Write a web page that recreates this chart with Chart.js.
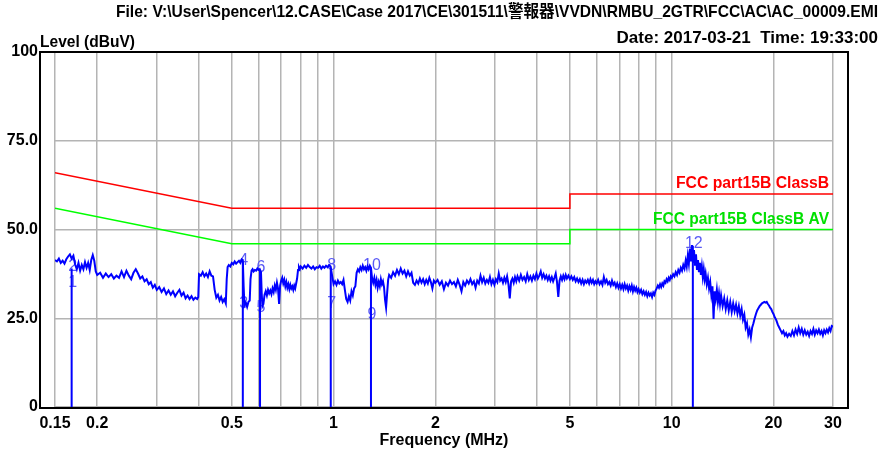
<!DOCTYPE html>
<html>
<head>
<meta charset="utf-8">
<script src="https://cdn.jsdelivr.net/npm/chart.js@4"></script>
<style>
  html, body { margin: 0; padding: 0; background: #fff; }
  #wrap { width: 882px; height: 452px; position: relative; }
</style>
</head>
<body>
<div id="wrap"><canvas id="emi"></canvas></div>
<script>
// axis ticks
const gridFreqs = [0.15, 0.2, 0.3, 0.4, 0.5, 0.6, 0.7, 0.8, 0.9, 1, 2, 3, 4, 5, 6, 7, 8, 9, 10, 20, 30];
const labelFreqs = [0.15, 0.2, 0.5, 1, 2, 5, 10, 20, 30];
const levelTicks = [0, 25, 50, 75, 100];

// limit lines
const limitQpFreq = [0.15, 0.5, 5, 5, 30];
const limitQpLevel = [66, 56, 56, 60, 60];
const limitAvFreq = [0.15, 0.5, 5, 5, 30];
const limitAvLevel = [56, 46, 46, 50, 50];

// markers 1..12 (label of 11 is hidden under the trace in the original)
const markerNo = ["1", "2", "3", "4", "5", "6", "7", "8", "9", "10", "", "12"];
const markerFreq = [0.168, 0.168, 0.539, 0.539, 0.606, 0.606, 0.981, 0.981, 1.29, 1.29, 11.55, 11.55];
const markerLevel = [34.6, 39.0, 28.7, 40.8, 27.3, 38.6, 28.7, 39.2, 25.6, 39.2, 38.0, 45.4];

// measured trace (MHz / dBuV)
const traceFreq = [
  0.150,0.152,0.154,0.156,0.158,0.160,0.162,0.164,0.166,0.168,0.170,0.172,0.174,0.176,0.178,0.180,0.182,0.184,0.186,0.188,0.190,0.192,0.194,0.196,0.198,
  0.200,0.204,0.208,0.212,0.216,0.220,0.224,0.228,0.232,0.236,0.240,0.244,0.248,0.252,0.256,0.260,0.264,0.268,0.272,0.276,0.280,0.284,0.288,0.292,0.296,
  0.300,0.305,0.310,0.315,0.320,0.325,0.330,0.335,0.340,0.345,0.350,0.355,0.360,0.365,0.370,0.375,0.380,0.385,0.390,0.395,0.398,
  0.400,0.405,0.410,0.415,0.420,0.425,0.430,0.435,0.440,0.445,0.450,0.455,0.460,0.465,0.470,0.475,0.480,0.483,0.486,0.490,0.495,
  0.500,0.505,0.510,0.515,0.520,0.525,0.530,0.535,0.539,0.542,0.545,0.550,0.555,0.560,0.565,0.568,0.572,0.576,0.580,0.585,0.590,0.595,
  0.600,0.605,0.610,0.613,0.616,0.620,0.625,0.630,0.635,0.640,0.645,0.650,0.655,0.660,0.665,0.670,0.675,0.680,0.685,0.690,0.695,
  0.700,0.705,0.710,0.715,0.720,0.725,0.730,0.735,0.740,0.745,0.750,0.755,0.760,0.765,0.770,0.775,0.780,0.785,0.790,0.795,
  0.800,0.810,0.820,0.830,0.840,0.850,0.860,0.870,0.880,0.890,0.900,0.910,0.920,0.930,0.940,0.950,0.960,0.970,0.980,0.990,
  1.000,1.010,1.020,1.030,1.040,1.050,1.060,1.070,1.080,1.090,1.100,1.110,1.120,1.130,1.140,1.150,1.160,1.170,1.180,1.190,
  1.200,1.210,1.220,1.230,1.240,1.250,1.260,1.270,1.280,1.290,1.300,1.310,1.320,1.330,1.340,1.350,1.360,1.370,1.380,1.390,
  1.400,1.410,1.420,1.430,1.440,1.450,1.460,1.480,1.500,1.520,1.540,1.560,1.580,1.600,1.620,1.640,1.660,1.680,1.700,1.720,1.740,
  1.760,1.780,1.800,1.820,1.840,1.860,1.880,1.900,1.920,1.940,1.960,1.980,
  2.000,2.030,2.060,2.090,2.120,2.150,2.180,2.210,2.240,2.270,2.300,2.330,2.360,2.390,2.420,2.450,2.480,2.510,2.540,2.570,2.600,2.630,2.660,2.690,
  2.720,2.750,2.780,2.810,2.840,2.870,2.900,2.930,2.960,2.990,3.020,3.050,3.080,3.110,3.140,3.170,3.200,3.230,3.260,3.290,3.320,3.350,3.380,3.410,3.440,3.470,
  3.500,3.540,3.580,3.620,3.660,3.700,3.740,3.780,3.820,3.860,3.900,3.940,3.980,4.020,4.060,4.100,4.140,4.180,4.220,4.260,4.300,4.340,4.380,4.420,4.460,
  4.500,4.540,4.580,4.620,4.660,4.700,4.740,4.780,4.820,4.860,4.900,4.950,
  5.000,5.050,5.100,5.150,5.200,5.250,5.300,5.350,5.400,5.450,5.500,5.550,5.600,5.650,5.700,5.750,5.800,5.850,5.900,5.950,
  6.000,6.060,6.120,6.180,6.240,6.300,6.360,6.420,6.480,6.540,6.600,6.660,6.720,6.780,6.840,6.900,6.960,
  7.020,7.080,7.140,7.200,7.260,7.320,7.380,7.440,7.500,7.560,7.620,7.680,7.740,7.800,7.860,7.920,7.980,
  8.050,8.120,8.190,8.260,8.330,8.400,8.470,8.540,8.610,8.680,8.750,8.820,8.890,8.960,
  9.030,9.100,9.170,9.240,9.310,9.380,9.450,9.520,9.590,9.660,9.730,9.800,9.870,9.940,
  10.01,10.10,10.19,10.28,10.37,10.46,10.55,10.64,10.73,10.82,10.91,11.00,11.08,11.16,11.24,11.32,11.40,11.48,11.56,11.64,11.72,11.80,11.88,11.96,
  12.04,12.12,12.20,12.28,12.36,12.44,12.52,12.60,12.70,12.80,12.90,13.00,13.10,13.20,13.30,13.40,13.50,13.60,13.70,13.80,13.90,
  14.00,14.15,14.30,14.45,14.60,14.75,14.90,15.05,15.20,15.35,15.50,15.65,15.80,15.95,16.10,16.25,16.40,16.55,16.70,16.85,
  17.00,17.15,17.30,17.45,17.60,17.75,17.90,18.05,18.20,18.35,18.50,18.65,18.80,18.95,19.10,19.25,19.40,19.55,19.70,19.85,
  20.00,20.20,20.40,20.60,20.80,21.00,21.20,21.40,21.60,21.80,22.00,22.25,22.50,22.75,23.00,23.25,23.50,23.75,24.00,24.25,24.50,24.75,
  25.00,25.25,25.50,25.75,26.00,26.25,26.50,26.75,27.00,27.25,27.50,27.75,28.00,28.25,28.50,28.75,29.00,29.25,29.50,29.75,30.00
];
const traceLevel = [
  41.4,41.0,41.8,40.6,41.2,40.4,41.6,42.4,43.0,41.8,42.6,40.2,38.8,40.6,38.4,40.0,38.8,40.8,39.2,40.6,38.6,41.4,42.8,41.2,38.2,
  37.2,37.8,36.4,37.6,36.6,37.4,36.2,37.0,36.4,38.2,36.6,38.4,37.0,36.0,37.8,38.8,37.6,36.2,36.8,35.4,36.0,34.6,35.2,33.6,34.4,
  33.0,33.8,32.4,33.4,31.8,32.8,31.6,32.6,31.2,32.2,33.0,31.4,32.2,30.6,31.4,30.4,31.2,30.2,30.8,30.4,31.0,
  37.4,37.0,38.0,36.8,37.6,36.6,38.2,37.0,36.8,33.0,30.8,31.6,30.0,31.0,29.6,30.4,29.2,36.0,39.4,40.0,39.6,
  40.6,40.2,41.0,40.4,40.8,41.2,40.6,41.6,41.4,34.0,28.6,29.4,28.2,29.6,30.0,36.0,38.4,38.8,38.2,38.6,38.4,39.0,
  38.6,38.8,38.0,32.0,28.4,29.0,31.6,32.6,31.4,33.0,32.0,32.8,31.8,33.4,32.4,34.2,33.0,35.0,33.4,29.0,34.2,
  35.6,36.4,34.8,35.8,34.0,35.2,33.6,34.6,33.2,34.4,33.4,34.0,33.0,34.2,33.4,34.8,36.2,38.6,39.4,38.8,
  39.6,39.0,39.8,39.2,40.0,39.4,39.0,39.6,38.8,39.4,39.2,39.8,39.0,39.6,39.2,39.8,39.4,40.0,39.6,37.0,
  34.6,35.4,34.4,35.6,34.8,35.2,34.6,35.8,33.0,30.4,29.6,31.2,30.0,32.6,31.4,33.4,34.0,37.8,38.8,38.2,
  39.4,38.6,39.8,38.8,39.4,38.4,39.6,38.8,39.8,39.2,36.2,35.0,36.4,34.4,35.8,33.6,35.2,34.0,36.0,34.6,
  35.4,33.8,30.2,28.0,32.0,35.8,37.2,36.4,38.0,37.0,38.6,37.4,39.0,37.6,38.4,36.8,38.2,37.0,37.8,35.0,34.4,
  35.6,34.8,36.2,35.0,36.0,34.6,35.8,34.8,36.4,35.2,33.4,35.6,
  35.0,35.8,34.4,35.4,33.2,35.0,34.2,35.6,34.6,35.2,34.0,35.8,34.4,32.6,35.2,34.2,35.6,34.8,36.0,34.6,35.4,33.6,35.6,34.8,
  37.0,35.2,36.4,34.8,35.8,35.0,36.6,34.6,35.8,34.4,36.0,35.2,37.6,35.6,36.2,35.0,36.4,35.2,36.8,34.6,30.6,35.4,36.2,35.0,36.6,35.4,
  36.8,35.6,37.2,35.8,36.6,35.4,37.4,35.8,36.8,35.6,37.0,36.0,37.6,36.2,37.0,38.2,36.4,37.4,36.2,37.0,35.8,36.8,35.6,36.6,35.4,
  36.4,37.6,35.2,31.0,35.6,36.8,35.8,37.0,36.0,37.2,36.2,37.0,
  36.0,36.8,35.8,36.6,35.4,36.2,35.2,36.0,34.8,35.8,34.6,35.6,35.0,35.8,34.8,36.0,35.0,35.8,34.6,35.4,
  34.8,35.8,34.6,35.4,34.4,36.6,35.0,35.8,34.6,35.2,34.2,35.6,34.4,35.0,33.8,34.8,33.6,
  34.6,33.4,34.4,33.2,34.6,33.4,34.2,32.8,34.0,33.0,34.2,32.6,33.8,32.8,33.6,32.4,33.2,
  32.2,33.0,31.8,32.6,31.6,32.4,31.2,32.2,31.4,32.0,31.0,32.2,31.6,32.8,
  33.4,34.2,33.6,34.6,33.8,34.8,34.2,35.4,35.0,36.0,35.4,36.4,35.8,36.8,
  36.4,37.4,36.8,38.0,37.2,38.6,37.8,39.2,38.4,40.0,39.0,41.2,39.6,42.6,40.4,44.6,41.0,45.6,40.6,44.2,39.8,43.0,38.6,41.4,
  38.0,40.6,37.2,39.6,36.6,38.8,36.0,37.6,34.6,36.4,33.4,35.2,31.6,34.0,24.8,32.6,30.4,33.0,29.6,32.0,29.0,
  31.4,28.4,30.6,27.6,30.0,27.2,29.6,26.8,29.2,27.0,28.8,26.4,28.4,25.8,27.6,24.6,26.0,22.4,23.6,20.4,
  21.8,19.6,22.4,23.6,25.0,26.2,27.2,27.8,28.4,28.8,29.2,29.4,29.6,29.4,29.6,29.0,28.6,28.0,27.6,26.8,
  26.2,25.2,24.4,23.2,22.4,21.6,20.8,21.4,20.2,20.8,19.8,20.6,20.0,21.4,20.2,21.8,20.6,22.4,20.8,22.0,20.4,21.6,
  20.4,21.2,20.0,21.4,20.6,22.0,20.4,21.6,20.8,21.8,20.6,21.4,20.2,21.6,20.8,21.8,21.0,22.2,21.4,22.8,22.6
];

const narrow = "'Liberation Sans Narrow', 'Liberation Sans', Arial, 'Noto Sans CJK TC', sans-serif";
const sans = "'Liberation Sans', Arial, sans-serif";

const traceData = traceFreq.map((f, i) => ({ x: f, y: traceLevel[i] }));
const qpData = limitQpFreq.map((f, i) => ({ x: f, y: limitQpLevel[i] }));
const avData = limitAvFreq.map((f, i) => ({ x: f, y: limitAvLevel[i] }));
const markerLines = [];
markerFreq.forEach((f, i) => {
    markerLines.push({ x: f, y: 0 }, { x: f, y: markerLevel[i] }, { x: f, y: null });
});

const decor = {
    id: "decor",
    beforeDatasetsDraw(chart) {
        const { ctx, scales: { x, y } } = chart;
        ctx.save();
        ctx.font = "16px " + sans;
        ctx.fillStyle = "#5a5af5";
        ctx.textAlign = "center";
        ctx.textBaseline = "middle";
        markerNo.forEach((n, i) => {
            if (!n) return;
            ctx.fillText(n, x.getPixelForValue(markerFreq[i]) + 1, y.getPixelForValue(markerLevel[i]) - 2);
        });
        ctx.restore();
    },
    afterDatasetsDraw(chart) {
        const { ctx, chartArea, scales: { y } } = chart;
        ctx.save();
        ctx.font = "bold 16px " + sans;
        ctx.textAlign = "right";
        ctx.textBaseline = "middle";
        ctx.fillStyle = "#ff0000";
        ctx.fillText("FCC part15B ClassB", chartArea.right - 4, y.getPixelForValue(limitQpLevel[4]) - 10, 153);
        ctx.fillStyle = "#00e000";
        ctx.fillText("FCC part15B ClassB AV", chartArea.right - 4, y.getPixelForValue(limitAvLevel[4]) - 10, 176);
        ctx.restore();
    },
    afterDraw(chart) {
        const { ctx, chartArea } = chart;
        ctx.save();
        // frame
        ctx.strokeStyle = "#000";
        ctx.lineWidth = 2;
        ctx.strokeRect(chartArea.left - 15, chartArea.top, chartArea.width + 30, chartArea.bottom - chartArea.top + 1);
        // header texts
        ctx.fillStyle = "#000";
        ctx.textBaseline = "middle";
        ctx.font = "bold 17px " + narrow;
        ctx.textAlign = "right";
        ctx.fillText("File: V:\\User\\Spencer\\12.CASE\\Case 2017\\CE\\301511\\警報器\\VVDN\\RMBU_2GTR\\FCC\\AC\\AC_00009.EMI", 878, 12, 762);
        ctx.fillText("Date: 2017-03-21  Time: 19:33:00", 878, 38, 275);
        ctx.textAlign = "left";
        ctx.fillText("Level (dBuV)", 40, 42, 95);
        ctx.restore();
    }
};

new Chart(document.getElementById("emi"), {
    type: "line",
    data: {
        datasets: [
            { data: traceData, borderColor: "#0000ff", borderWidth: 2, pointRadius: 0, tension: 0 },
            { data: markerLines, borderColor: "#0000ff", borderWidth: 2, pointRadius: 0, spanGaps: false },
            { data: qpData, borderColor: "#ff0000", borderWidth: 1.5, pointRadius: 0 },
            { data: avData, borderColor: "#00ff00", borderWidth: 1.5, pointRadius: 0 },
        ],
    },
    options: {
        responsive: true,
        maintainAspectRatio: false,
        animation: false,
        layout: { padding: { top: 52, right: 49, bottom: 0, left: 0 } },
        plugins: { legend: { display: false }, tooltip: { enabled: false } },
        scales: {
            x: {
                type: "logarithmic",
                min: 0.15,
                max: 30,
                afterBuildTicks: (scale) => { scale.ticks = gridFreqs.map((v) => ({ value: v })); },
                afterFit: (scale) => { scale.height = 45; },
                ticks: {
                    autoSkip: false,
                    maxRotation: 0,
                    padding: 7,
                    color: "#000",
                    font: { family: sans, size: 16, weight: "bold" },
                    callback: (v) => (labelFreqs.includes(v) ? String(v) : ""),
                },
                grid: { color: "#b4b4b4", lineWidth: 1.5, drawTicks: false },
                border: { display: false },
                title: {
                    display: true,
                    text: "Frequency (MHz)",
                    color: "#000",
                    font: { family: sans, size: 16, weight: "bold" },
                    padding: { top: 0, bottom: 2 },
                },
            },
            y: {
                min: 0,
                max: 100,
                afterBuildTicks: (scale) => { scale.ticks = levelTicks.map((v) => ({ value: v })); },
                afterFit: (scale) => { scale.width = 55; },
                ticks: {
                    padding: 17,
                    color: "#000",
                    font: { family: sans, size: 16, weight: "bold" },
                    callback: (v) => (v === 0 || v === 100 ? String(v) : v.toFixed(1)),
                },
                grid: { color: "#b4b4b4", lineWidth: 1.5, drawTicks: false },
                border: { display: false },
            },
        },
    },
    plugins: [decor],
});
</script>
</body>
</html>
